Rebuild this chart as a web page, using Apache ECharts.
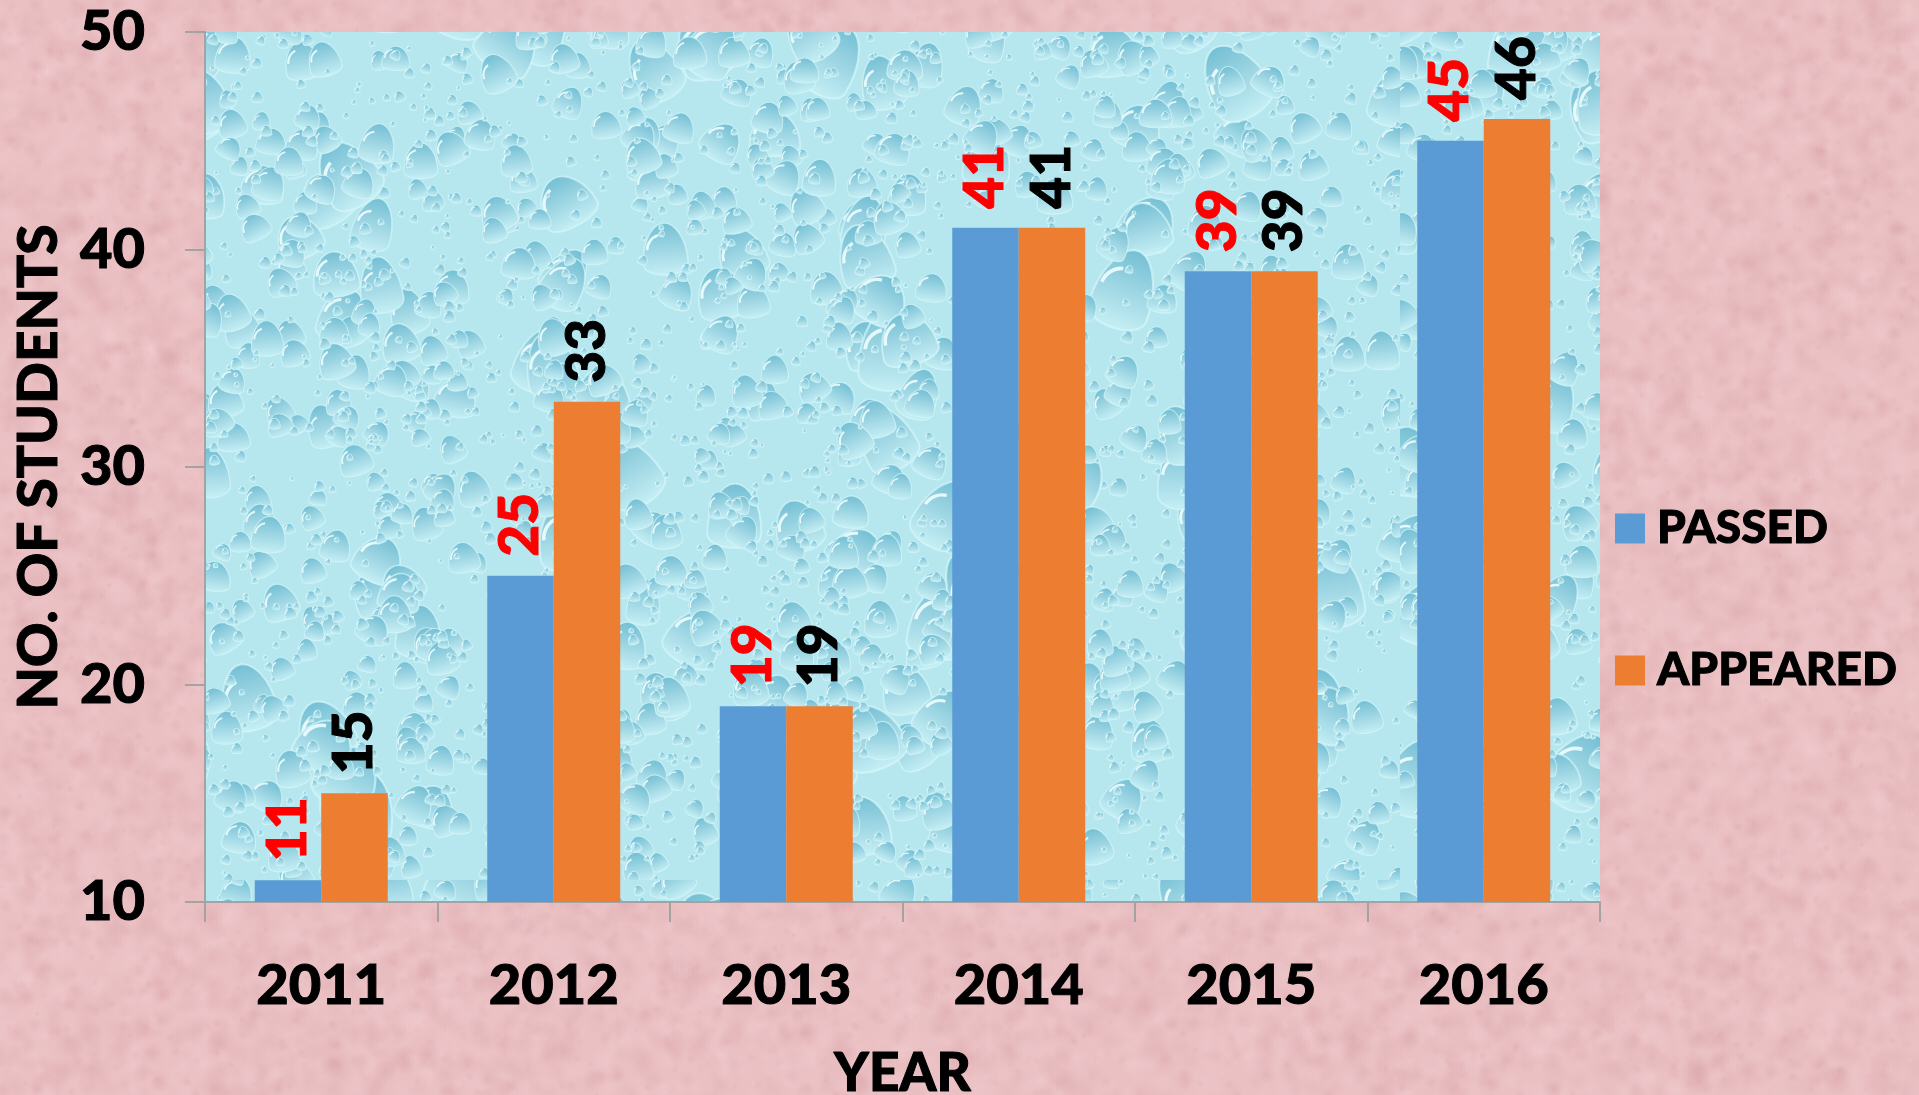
<!DOCTYPE html>
<html><head><meta charset="utf-8">
<style>html,body{margin:0;padding:0;background:#ebbfc2;overflow:hidden}#c{width:1919px;height:1095px}</style>
<script src="https://cdn.jsdelivr.net/npm/echarts@6/dist/echarts.min.js"></script>
</head><body><div id="c"></div>
<script>
const categories = ['2011','2012','2013','2014','2015','2016'];
const passed = [11,25,19,41,39,45];
const appeared = [15,33,19,41,39,46];
const yTicks = {min:10,max:50,interval:10};

function lcg(seed){let s=seed>>>0;return ()=>{s=(Math.imul(s,1664525)+1013904223)>>>0;return s/4294967296;};}

function pinkTexture(){
  const c=document.createElement('canvas');c.width=1919;c.height=1095;
  const g=c.getContext('2d');const r=lcg(7);
  g.fillStyle='#eac0c3';g.fillRect(0,0,c.width,c.height);
  for(let i=0;i<26000;i++){
    const x=r()*c.width,y=r()*c.height,rad=3+r()*13;
    const dark=r()<0.5;
    const col=dark?'205,145,152':'247,214,216';
    const gr=g.createRadialGradient(x,y,0,x,y,rad);
    gr.addColorStop(0,'rgba('+col+','+(0.06+r()*0.12)+')');
    gr.addColorStop(1,'rgba('+col+',0)');
    g.fillStyle=gr;g.beginPath();g.arc(x,y,rad,0,7);g.fill();
  }
  return c;
}
function drop(g,x,y,w,h,rot){
  g.save();g.translate(x,y);g.rotate(rot);
  const gr=g.createLinearGradient(0,-h,0,h*0.8);
  gr.addColorStop(0,'#74bfd4');gr.addColorStop(0.5,'#a0d7e4');gr.addColorStop(1,'#c9f1f6');
  g.fillStyle=gr;
  g.beginPath();
  g.moveTo(-w,h*0.35);
  g.bezierCurveTo(-w,-h*0.5,-w*0.45,-h,0,-h);
  g.bezierCurveTo(w*0.45,-h,w,-h*0.5,w,h*0.35);
  g.bezierCurveTo(w,h*0.85,-w,h*0.85,-w,h*0.35);
  g.fill();
  g.strokeStyle='rgba(212,246,249,0.7)';g.lineWidth=Math.max(1,w*0.07);
  g.stroke();
  g.strokeStyle='rgba(245,255,255,0.85)';g.lineWidth=Math.max(1,w*0.12);
  g.beginPath();g.arc(-w*0.1,-h*0.1,w*0.7,Math.PI*1.02,Math.PI*1.42);g.stroke();
  g.restore();
}
function waterTexture(){
  const c=document.createElement('canvas');c.width=1400;c.height=880;
  const g=c.getContext('2d');const r=lcg(23);
  g.fillStyle='#b6e7ef';g.fillRect(0,0,c.width,c.height);
  for(let i=0;i<190;i++){
    const x=r()*c.width,y=r()*c.height,w=16+r()*16;
    drop(g,x,y,w,w*(1+r()*0.6),(r()-0.5)*1.2);
  }
  for(let i=0;i<750;i++){
    const x=r()*c.width,y=r()*c.height,w=8+r()*10;
    drop(g,x,y,w,w*(1+r()*0.3),(r()-0.5)*1.0);
  }
  for(let i=0;i<2200;i++){
    const x=r()*c.width,y=r()*c.height,w=2+r()*4;
    drop(g,x,y,w,w*1.15,(r()-0.5)*0.8);
  }
  return c;
}

const FONT='Lato';
const heavy={fontFamily:FONT,fontWeight:900,textBorderColor:'#000',textBorderWidth:1};
const chart=echarts.init(document.getElementById('c'),null,{renderer:'canvas',width:1919,height:1095});
function seriesOf(name,data,color,labelColor){
  return {name,type:'bar',data,barGap:'0%',barCategoryGap:'42.8%',
    itemStyle:{color},
    label:{show:true,position:'top',rotate:90,distance:16,offset:[3,0],align:'left',verticalAlign:'middle',
      color:labelColor,fontFamily:FONT,fontWeight:900,fontSize:55,textBorderColor:labelColor,textBorderWidth:1}};
}
chart.setOption({
  animation:false,
  backgroundColor:{image:pinkTexture(),repeat:'no-repeat'},
  grid:{show:true,outerBoundsMode:'none',containLabel:false,left:205,right:319,top:32,bottom:193,borderWidth:0,
    backgroundColor:{image:waterTexture(),repeat:'repeat'}},
  legend:{orient:'vertical',left:1615,top:505,padding:0,itemWidth:30,itemHeight:30,itemGap:95,
    icon:'rect',data:['PASSED','APPEARED'],
    textStyle:Object.assign({color:'#000',fontSize:46,padding:[0,0,0,7]},heavy)},
  xAxis:{type:'category',data:categories,
    name:'YEAR',nameLocation:'middle',nameGap:145,
    nameTextStyle:Object.assign({color:'#000',fontSize:53},heavy),
    axisLine:{lineStyle:{color:'#a3a3a3',width:2}},
    axisTick:{show:true,length:20,lineStyle:{color:'#a3a3a3',width:2}},
    axisLabel:Object.assign({color:'#000',fontSize:56,margin:56},heavy)},
  yAxis:{type:'value',min:yTicks.min,max:yTicks.max,interval:yTicks.interval,
    name:'NO. OF STUDENTS',nameLocation:'middle',nameGap:138,
    nameTextStyle:Object.assign({color:'#000',fontSize:55},heavy),
    splitLine:{show:false},
    axisLine:{show:true,lineStyle:{color:'#a3a3a3',width:2}},
    axisTick:{show:true,length:20,lineStyle:{color:'#a3a3a3',width:2}},
    axisLabel:Object.assign({color:'#000',fontSize:56,margin:60},heavy)},
  series:[seriesOf('PASSED',passed,'#5b9bd5','#ff0000'),seriesOf('APPEARED',appeared,'#ed7d31','#000000')]
});
</script></body></html>
